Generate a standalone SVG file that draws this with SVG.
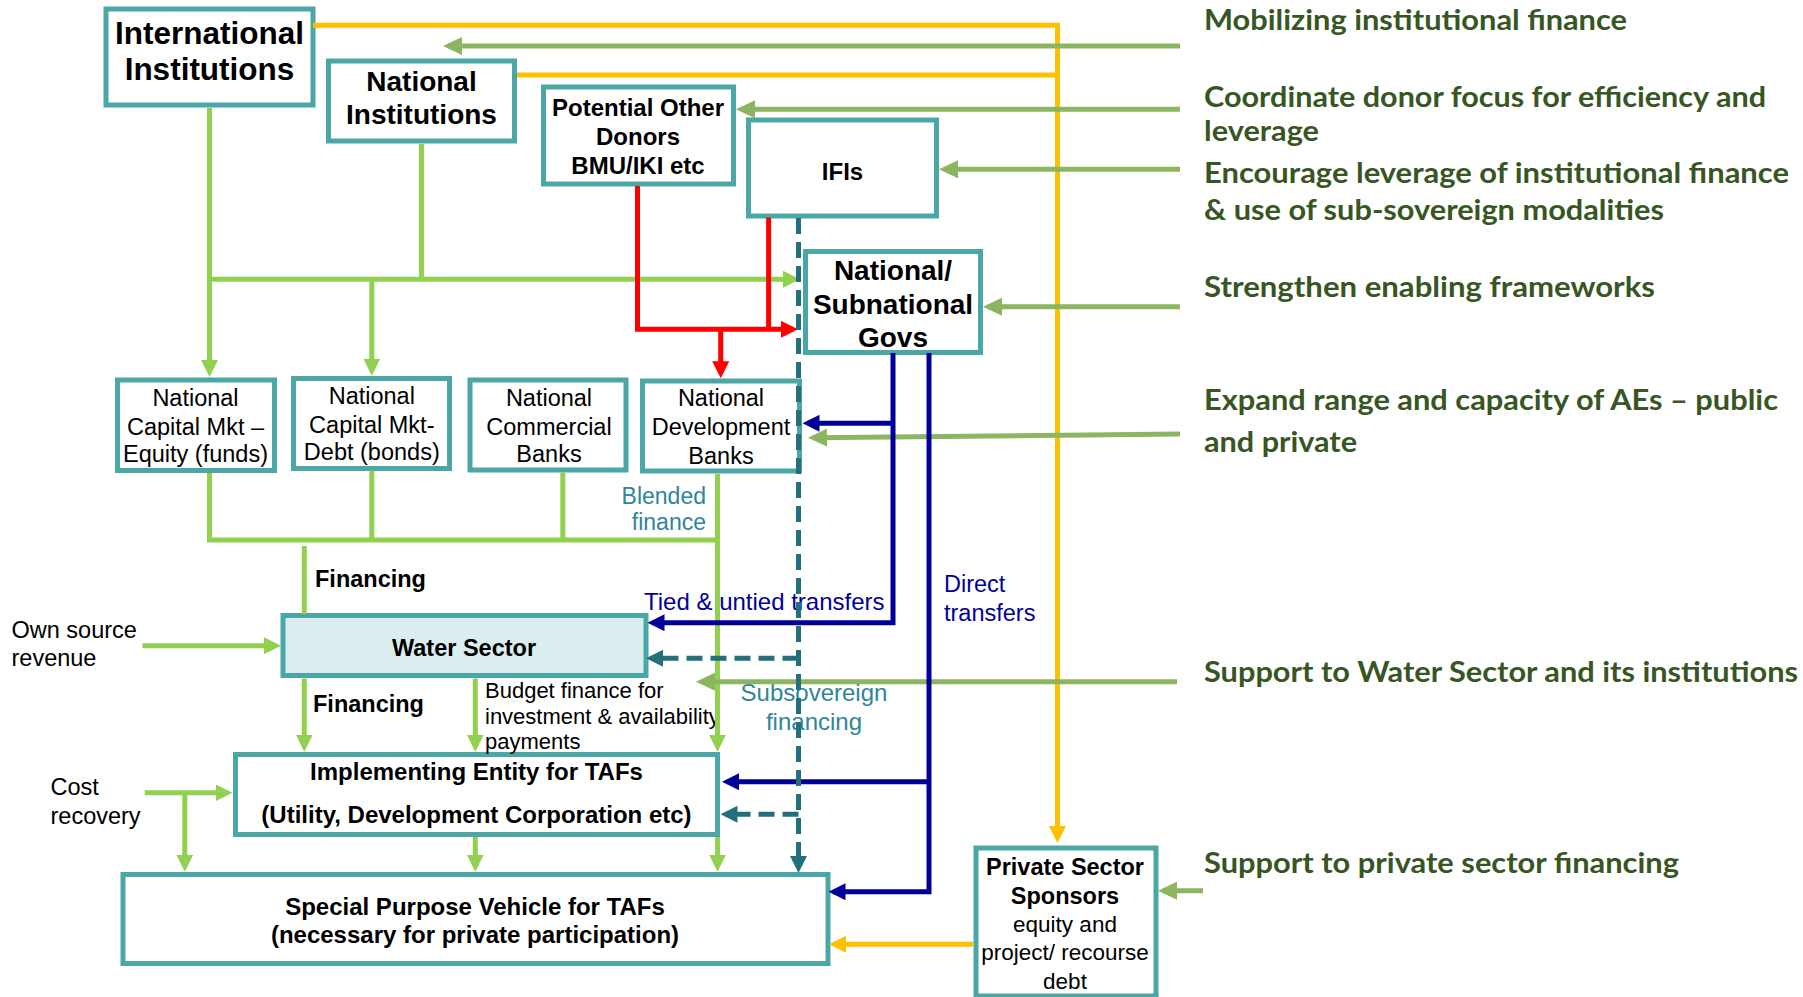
<svg xmlns="http://www.w3.org/2000/svg" width="1803" height="997" viewBox="0 0 1803 997">
<style>
.box{fill:#fff;stroke:#4BA7A6;stroke-width:5}
.ws{fill:#DAEEEF;stroke:#4BA7A6;stroke-width:5}
.t{font-family:"Liberation Sans",Arial,sans-serif;fill:#000}
.b{font-weight:bold}
.c{text-anchor:middle}
.r{font-family:"Lato","Liberation Sans",sans-serif;font-weight:700;font-size:28px;fill:#375623}
.ln{fill:none;stroke-width:5;stroke-linejoin:miter}
.y{stroke:#FFC000}.lg{stroke:#92D050}.mg{stroke:#8CB560}.rd{stroke:#FF0000}.bl{stroke:#000099}.td{stroke:#23707C;stroke-dasharray:16 8}
.teal{fill:#31849B}.navy{fill:#000099}
</style>
<defs>
<marker id="mY" markerUnits="userSpaceOnUse" markerWidth="17" markerHeight="17" viewBox="0 0 17 17" refX="12" refY="8.5" orient="auto"><path d="M0,0 L17,8.5 L0,17 z" fill="#FFC000"/></marker>
<marker id="mLG" markerUnits="userSpaceOnUse" markerWidth="17" markerHeight="17" viewBox="0 0 17 17" refX="12" refY="8.5" orient="auto"><path d="M0,0 L17,8.5 L0,17 z" fill="#92D050"/></marker>
<marker id="mMG" markerUnits="userSpaceOnUse" markerWidth="19" markerHeight="18" viewBox="0 0 19 18" refX="14" refY="9" orient="auto"><path d="M0,0 L19,9 L0,18 z" fill="#8CB560"/></marker>
<marker id="mR" markerUnits="userSpaceOnUse" markerWidth="17" markerHeight="17" viewBox="0 0 17 17" refX="12" refY="8.5" orient="auto"><path d="M0,0 L17,8.5 L0,17 z" fill="#FF0000"/></marker>
<marker id="mB" markerUnits="userSpaceOnUse" markerWidth="17" markerHeight="17" viewBox="0 0 17 17" refX="12" refY="8.5" orient="auto"><path d="M0,0 L17,8.5 L0,17 z" fill="#000099"/></marker>
<marker id="mT" markerUnits="userSpaceOnUse" markerWidth="17" markerHeight="17" viewBox="0 0 17 17" refX="12" refY="8.5" orient="auto"><path d="M0,0 L17,8.5 L0,17 z" fill="#23707C"/></marker>
</defs>
<rect width="1803" height="997" fill="#fff"/>

<g id="nodes">
<g id="intl"><rect class="box" x="106" y="9" width="207" height="96"/>
<text class="t b c" x="209.5" y="43.5" font-size="31.5">International</text>
<text class="t b c" x="209.5" y="80" font-size="31.5">Institutions</text></g>
<g id="natinst"><rect class="box" x="328.5" y="61" width="186" height="80"/>
<text class="t b c" x="421.5" y="91" font-size="28">National</text>
<text class="t b c" x="421.5" y="123.5" font-size="28">Institutions</text></g>
<g id="donors"><rect class="box" x="543.5" y="87" width="190" height="97"/>
<text class="t b c" x="638" y="116" font-size="24">Potential Other</text>
<text class="t b c" x="638" y="144.5" font-size="24">Donors</text>
<text class="t b c" x="638" y="173.5" font-size="24">BMU/IKI etc</text></g>
<g id="ifis"><rect class="box" x="748.5" y="120" width="188" height="96"/>
<text class="t b c" x="842.5" y="180" font-size="24">IFIs</text></g>
<g id="govs"><rect class="box" x="805.5" y="251.5" width="175" height="101"/>
<text class="t b c" x="893" y="280" font-size="28">National/</text>
<text class="t b c" x="893" y="313.5" font-size="28">Subnational</text>
<text class="t b c" x="893" y="347" font-size="28">Govs</text></g>
<g id="ncme"><rect class="box" x="117.5" y="380" width="157" height="90.5"/>
<text class="t c" x="195.5" y="406" font-size="23.5">National</text>
<text class="t c" x="195.5" y="435" font-size="23.5">Capital Mkt –</text>
<text class="t c" x="195.5" y="462" font-size="23.5">Equity (funds)</text></g>
<g id="ncmd"><rect class="box" x="293.5" y="378.5" width="156" height="90"/>
<text class="t c" x="371.8" y="403.5" font-size="23.5">National</text>
<text class="t c" x="371.8" y="432.5" font-size="23.5">Capital Mkt-</text>
<text class="t c" x="371.8" y="460" font-size="23.5">Debt (bonds)</text></g>
<g id="ncb"><rect class="box" x="470" y="380" width="156" height="90"/>
<text class="t c" x="549" y="406" font-size="23.5">National</text>
<text class="t c" x="549" y="435" font-size="23.5">Commercial</text>
<text class="t c" x="549" y="462" font-size="23.5">Banks</text></g>
<g id="ndb"><rect class="box" x="642.5" y="381" width="157" height="90"/>
<text class="t c" x="721" y="406" font-size="23.5">National</text>
<text class="t c" x="721" y="435" font-size="23.5">Development</text>
<text class="t c" x="721" y="464" font-size="23.5">Banks</text></g>
<g id="water"><rect class="ws" x="283" y="615.5" width="363" height="60"/>
<text class="t b c" x="464" y="656" font-size="23.5">Water Sector</text></g>
<g id="ie"><rect class="box" x="235.5" y="754.5" width="482" height="80"/>
<text class="t b c" x="476.5" y="780" font-size="24">Implementing Entity for TAFs</text>
<text class="t b c" x="476.5" y="823" font-size="24">(Utility, Development Corporation etc)</text></g>
<g id="spv"><rect class="box" x="123" y="874.5" width="705" height="89"/>
<text class="t b c" x="475" y="914.5" font-size="24">Special Purpose Vehicle for TAFs</text>
<text class="t b c" x="475" y="943" font-size="24">(necessary for private participation)</text></g>
<g id="pss"><rect class="box" x="976" y="848" width="180" height="148"/>
<text class="t b c" x="1065" y="875" font-size="23.5">Private Sector</text>
<text class="t b c" x="1065" y="903.5" font-size="23.5">Sponsors</text>
<text class="t c" x="1065" y="932" font-size="22.5">equity and</text>
<text class="t c" x="1065" y="960" font-size="22.5">project/ recourse</text>
<text class="t c" x="1065" y="988.5" font-size="22.5">debt</text></g>
</g>

<g id="labels">
<text class="t b" x="315" y="587" font-size="23.5">Financing</text>
<text class="t b" x="313" y="712" font-size="23.5">Financing</text>
<text class="t" x="485" y="697.5" font-size="22">Budget finance for</text>
<text class="t" x="485" y="723.5" font-size="22">investment &amp; availability</text>
<text class="t" x="485" y="748.5" font-size="22">payments</text>
<text class="t" x="11.5" y="637.5" font-size="23.5">Own source</text>
<text class="t" x="11.5" y="666" font-size="23.5">revenue</text>
<text class="t" x="50.5" y="795" font-size="23.5">Cost</text>
<text class="t" x="50.5" y="824" font-size="23.5">recovery</text>
<text class="t teal" x="706" y="503.5" font-size="23" text-anchor="end">Blended</text>
<text class="t teal" x="706" y="530" font-size="23" text-anchor="end">finance</text>
<text class="t teal c" x="814" y="701" font-size="24">Subsovereign</text>
<text class="t teal c" x="814" y="729.5" font-size="24">financing</text>
<text class="t navy" x="644" y="610" font-size="24">Tied &amp; untied transfers</text>
<text class="t navy" x="944" y="592" font-size="23.5">Direct</text>
<text class="t navy" x="944" y="621" font-size="23.5">transfers</text>
<text class="r" x="1204" y="29.5" textLength="423" lengthAdjust="spacingAndGlyphs">Mobilizing institutional finance</text>
<text class="r" x="1204" y="106.5" textLength="562" lengthAdjust="spacingAndGlyphs">Coordinate donor focus for efficiency and</text>
<text class="r" x="1204" y="141" textLength="115" lengthAdjust="spacingAndGlyphs">leverage</text>
<text class="r" x="1204" y="182.5" textLength="585" lengthAdjust="spacingAndGlyphs">Encourage leverage of institutional finance</text>
<text class="r" x="1204" y="220" textLength="460" lengthAdjust="spacingAndGlyphs">&amp; use of sub-sovereign modalities</text>
<text class="r" x="1204" y="296.5" textLength="451" lengthAdjust="spacingAndGlyphs">Strengthen enabling frameworks</text>
<text class="r" x="1204" y="410" textLength="574" lengthAdjust="spacingAndGlyphs">Expand range and capacity of AEs – public</text>
<text class="r" x="1204" y="451.5" textLength="153" lengthAdjust="spacingAndGlyphs">and private</text>
<text class="r" x="1204" y="681.5" textLength="594" lengthAdjust="spacingAndGlyphs">Support to Water Sector and its institutions</text>
<text class="r" x="1204" y="873" textLength="475" lengthAdjust="spacingAndGlyphs">Support to private sector financing</text>
</g>

<g id="connectors">
<path class="ln y" d="M313,25.3 H1057.5 V838" marker-end="url(#mY)"/>
<path class="ln y" d="M517,75 H1057.5"/>
<path class="ln y" d="M973,944.3 H834" marker-end="url(#mY)"/>

<path class="ln lg" d="M209.5,108 V372" marker-end="url(#mLG)"/>
<path class="ln lg" d="M421.5,144 V279.3"/>
<path class="ln lg" d="M209.5,279.3 H795" marker-end="url(#mLG)"/>
<path class="ln lg" d="M371.8,279.3 V370.7" marker-end="url(#mLG)"/>
<path class="ln lg" d="M209.5,473 V540 H717.5"/>
<path class="ln lg" d="M371.8,470.5 V540"/>
<path class="ln lg" d="M562.8,472.5 V540"/>
<path class="ln lg" d="M717.5,474 V746.7" marker-end="url(#mLG)"/>
<path class="ln lg" d="M304.3,546 V614"/>
<path class="ln lg" d="M304.3,678.5 V746.7" marker-end="url(#mLG)"/>
<path class="ln lg" d="M475.3,678.5 V746.7" marker-end="url(#mLG)"/>
<path class="ln lg" d="M142.4,645.7 H276" marker-end="url(#mLG)"/>
<path class="ln lg" d="M144.7,792.7 H227.5" marker-end="url(#mLG)"/>
<path class="ln lg" d="M184.8,792.7 V866.7" marker-end="url(#mLG)"/>
<path class="ln lg" d="M475.3,837 V866.7" marker-end="url(#mLG)"/>
<path class="ln lg" d="M717.6,837 V866.7" marker-end="url(#mLG)"/>

<path class="ln mg" d="M1180,46 H448" marker-end="url(#mMG)"/>
<path class="ln mg" d="M1180,109.3 H741" marker-end="url(#mMG)"/>
<path class="ln mg" d="M1180,169.3 H944" marker-end="url(#mMG)"/>
<path class="ln mg" d="M1180,306.7 H988" marker-end="url(#mMG)"/>
<path class="ln mg" d="M1180,434 L813,437.8" marker-end="url(#mMG)"/>
<path class="ln mg" d="M1177,681.7 H701" marker-end="url(#mMG)"/>
<path class="ln mg" d="M1203,890.7 H1163" marker-end="url(#mMG)"/>

<path class="ln rd" d="M637.5,186 V329.3 H793" marker-end="url(#mR)"/>
<path class="ln rd" d="M768.6,217.5 V329.3"/>
<path class="ln rd" d="M720.7,329.3 V373.3" marker-end="url(#mR)"/>

<path class="ln bl" d="M893,353 V622.7 H652.5" marker-end="url(#mB)"/>
<path class="ln bl" d="M893,423.3 H807.5" marker-end="url(#mB)"/>
<path class="ln bl" d="M929,353 V891.7 H833.5" marker-end="url(#mB)"/>
<path class="ln bl" d="M929,781.7 H727" marker-end="url(#mB)"/>

<path class="ln td" d="M798.5,218 V868" marker-end="url(#mT)"/>
<path class="ln td" d="M798.5,658.3 H651" marker-end="url(#mT)"/>
<path class="ln td" d="M798.5,814.3 H725.5" marker-end="url(#mT)"/>
</g>
</svg>
